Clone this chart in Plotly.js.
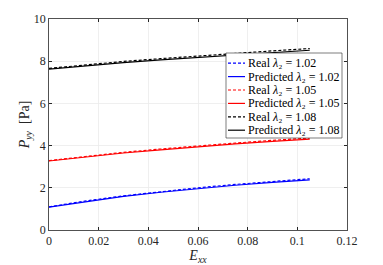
<!DOCTYPE html>
<html>
<head>
<meta charset="utf-8">
<script src="https://cdn.plot.ly/plotly-3.0.1.min.js"></script>
<style>html,body{margin:0;padding:0;background:#fff;}#chart{width:383px;height:265px;}</style>
</head>
<body>
<div id="chart"></div>
<script>
const strain = [0, 0.015, 0.03, 0.045, 0.06, 0.075, 0.09, 0.105];
const real102 = [1.10, 1.38, 1.62, 1.82, 2.00, 2.16, 2.30, 2.43];
const pred102 = [1.08, 1.35, 1.59, 1.79, 1.97, 2.12, 2.26, 2.38];
const real105 = [3.29, 3.50, 3.68, 3.84, 3.99, 4.12, 4.25, 4.36];
const pred105 = [3.27, 3.47, 3.65, 3.80, 3.95, 4.08, 4.20, 4.31];
const real108 = [7.66, 7.84, 7.99, 8.12, 8.25, 8.37, 8.49, 8.60];
const pred108 = [7.62, 7.79, 7.93, 8.06, 8.18, 8.30, 8.41, 8.52];
const seriesNames = [
  'Real <i>λ</i>₂ = 1.02', 'Predicted <i>λ</i>₂ = 1.02',
  'Real <i>λ</i>₂ = 1.05', 'Predicted <i>λ</i>₂ = 1.05',
  'Real <i>λ</i>₂ = 1.08', 'Predicted <i>λ</i>₂ = 1.08'
];
const xTicks = [0, 0.02, 0.04, 0.06, 0.08, 0.1, 0.12];
const xTickText = ['0', '0.02', '0.04', '0.06', '0.08', '0.1', '0.12'];
const yTicks = [0, 2, 4, 6, 8, 10];

const F = 'Liberation Serif, DejaVu Serif, serif';
const W = 383, H = 265;
const M = {l: 49, r: 36, t: 19, b: 35};
const PW = W - M.l - M.r, PH = H - M.t - M.b;
const colors = ['#0000ff', '#0000ff', '#ff0000', '#ff0000', '#000000', '#000000'];
const dashes = ['3px,2px', 'solid', '3px,2px', 'solid', '3px,2px', 'solid'];
const values = [real102, pred102, real105, pred105, real108, pred108];

const data = values.map((y, i) => ({
  x: strain, y: y, name: seriesNames[i], type: 'scatter', mode: 'lines',
  showlegend: false, line: {color: colors[i], width: 1.2, dash: dashes[i]}
}));

// Compact MATLAB-style legend, laid out in pixel space relative to the plot area
const px = v => (v - M.l) / PW;          // pixel x -> paper x
const py = v => (H - M.b - v) / PH;      // pixel y -> paper y
const leg = {left: 226, right: 342, top: 53, bottom: 138, row0: 63.2, rowH: 13.4,
             lineX0: 228, lineX1: 245, textX: 247};
const shapes = [{type: 'rect', xref: 'paper', yref: 'paper',
  x0: px(leg.left), x1: px(leg.right), y0: py(leg.bottom), y1: py(leg.top),
  fillcolor: '#ffffff', line: {color: '#262626', width: 0.6}, layer: 'above'}];
const annotations = [];
seriesNames.forEach((nm, i) => {
  const cy = leg.row0 + i * leg.rowH;
  shapes.push({type: 'line', xref: 'paper', yref: 'paper',
    x0: px(leg.lineX0), x1: px(leg.lineX1), y0: py(cy), y1: py(cy),
    line: {color: colors[i], width: 1.2, dash: dashes[i]}, layer: 'above'});
  annotations.push({xref: 'paper', yref: 'paper', x: px(leg.textX), y: py(cy),
    xanchor: 'left', yanchor: 'middle', showarrow: false, text: nm,
    borderpad: 0, font: {family: F, size: 12, color: '#000'}});
});

const axisCommon = {
  showline: true, linecolor: '#262626', linewidth: 0.8, mirror: 'ticks',
  ticks: 'inside', ticklen: 3, tickcolor: '#262626',
  showgrid: true, gridcolor: '#ebebeb', gridwidth: 0.8, zeroline: false,
  tickfont: {family: F, size: 12, color: '#262626'}
};
const layout = {
  width: W, height: H, margin: M,
  paper_bgcolor: '#fff', plot_bgcolor: '#fff',
  showlegend: false,
  xaxis: Object.assign({}, axisCommon, {
    range: [0, 0.12], tickvals: xTicks, ticktext: xTickText,
    title: {text: '<i>E</i><sub><i>xx</i></sub>', font: {family: F, size: 14, color: '#262626'}, standoff: 3}
  }),
  yaxis: Object.assign({}, axisCommon, {
    range: [0, 10], tickvals: yTicks,
    title: {text: '<i>P</i><sub><i>yy</i></sub>&nbsp;&nbsp;[Pa]', font: {family: F, size: 14, color: '#262626'}, standoff: 0}
  }),
  shapes: shapes,
  annotations: annotations
};
Plotly.newPlot('chart', data, layout, {displayModeBar: false, staticPlot: true});
</script>
</body>
</html>
